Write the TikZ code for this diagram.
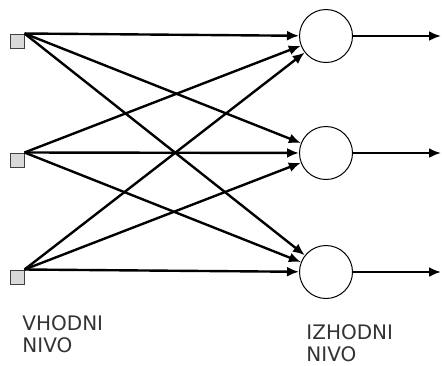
\documentclass[tikz,border=0pt]{standalone}
\usepackage{fontspec}
\setmainfont{DejaVu Sans}
\usetikzlibrary{arrows.meta}

\begin{document}
\begin{tikzpicture}[x=0.5pt,y=-0.5pt,
    vhod/.style ={rectangle, draw=black!75, fill=black!15, line width=0.5pt,
                  minimum size=7pt, inner sep=0pt},
    izhod/.style ={circle, draw, line width=0.5pt, minimum size=26.5pt, inner sep=0pt},
    povezava/.style ={line width=1.2pt, -{Latex[length=6pt,width=5pt]}},
    oznaka/.style ={anchor=north west, align=left, inner sep=0pt,
                    text=black!80, font=\fontsize{10pt}{11pt}\selectfont}]
   \useasboundingbox (0,0) rectangle (442,365);

   \node[vhod] (A) at (17,41)  {};
   \node[vhod] (B) at (17,160) {};
   \node[vhod] (C) at (17,277) {};

   \node[izhod] (X) at (326,36)  {};
   \node[izhod] (Y) at (326,153) {};
   \node[izhod] (Z) at (326,272) {};

   \coordinate (X') at (441,36);
   \coordinate (Y') at (441,153);
   \coordinate (Z') at (441,272);

   \foreach \v in {A,B,C}
     \foreach \i in {X,Y,Z}
       \draw[povezava] (\v.north east) -- (\i);

   \draw[povezava] (X) -- (X');
   \draw[povezava] (Y) -- (Y');
   \draw[povezava] (Z) -- (Z');

   \node[oznaka] (vn) at (22,315)  {VHODNI\\NIVO};
   \node[oznaka] (in) at (306,324) {IZHODNI\\NIVO};
 \end{tikzpicture}
\end{document}
